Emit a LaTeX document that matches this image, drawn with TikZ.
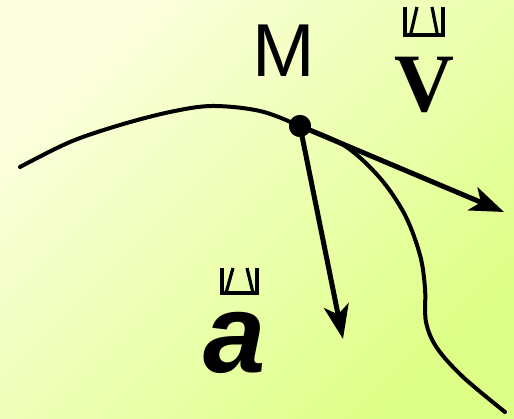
\documentclass[tikz,border=0pt]{standalone}
\usepackage{fontspec}
\setmainfont{Liberation Sans}
\newfontfamily\serifbf{Liberation Serif}
\usetikzlibrary{arrows.meta}
\definecolor{bgA}{RGB}{252,255,222}
\definecolor{bgB}{RGB}{222,255,135}
\tikzset{
  curveline/.style={line width=4pt, line cap=round},
  vecline/.style={line width=5pt, -{Stealth[length=34pt, width=25pt, inset=9pt]}},
  tofu/.style={line width=3.2pt, line cap=butt, line join=miter},
  lbl/.style={anchor=base, inner sep=0pt}
}
\begin{document}
\begin{tikzpicture}[x=1pt,y=-1pt]
\useasboundingbox (0,0) rectangle (514,419);
\shade[top color=bgA, bottom color=bgB, shading angle=45] (0,0) rectangle (514,419);
% point M
\node[circle, fill=black, inner sep=0pt, minimum size=22pt] (M) at (300,126) {};
% curve
\draw[curveline] plot[smooth, tension=0.55] coordinates {(20,167) (70,142) (120,125) (170,112) (212,106) (260,111) (M.center) (345,146) (380,178) (405,215) (420,255) (425,288) (426,322) (437,348) (463,377) (505,412)};
% vectors
\coordinate (vtip) at (504,212);
\coordinate (atip) at (343,339);
\draw[vecline] (M.center) -- (vtip);
\draw[vecline] (M.center) -- (atip);
\fill (M) circle (11pt);
% labels
\node[lbl] (lblM) at (284,77) {\fontsize{75}{80}\selectfont M};
\node[lbl] (lblV) at (424,112) {\fontsize{83}{90}\selectfont\serifbf\bfseries V};
\node[lbl] (lblA) at (235,373) {\fontsize{112}{120}\selectfont\bfseries\itshape a};
% missing-glyph marks above the letters
\draw[tofu] (405,7) -- (405,35) -- (443,35) -- (443,7);
\draw[tofu] (410.5,35) -- (417,7);
\draw[tofu] (437.5,35) -- (432,7);
\draw[tofu] (222,268) -- (222,293) -- (257,293) -- (257,268);
\draw[tofu] (226,293) -- (233,268);
\draw[tofu] (253,293) -- (247,268);
\end{tikzpicture}
\end{document}
